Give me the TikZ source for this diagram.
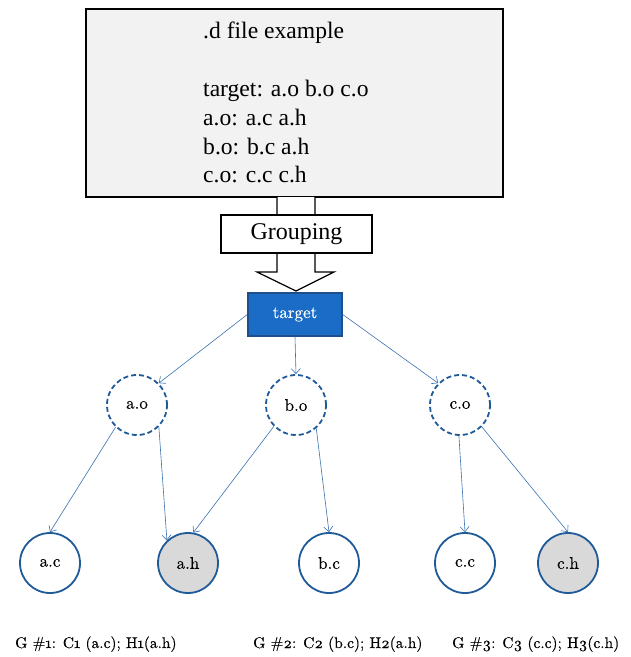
\documentclass[tikz,border=0pt]{standalone}
\usepackage{fontspec}
\usetikzlibrary{arrows.meta}
\newfontfamily\timesfont{Liberation Serif}
\newfontfamily\labfont{lmroman10-regular}[Extension=.otf, Numbers=OldStyle, FakeBold=0.35]

\definecolor{nodeblue}{HTML}{1F5A99}
\definecolor{linkblue}{HTML}{3A72B0}
\definecolor{targetfill}{HTML}{1A6CC6}
\definecolor{targetedge}{HTML}{1F4E8A}
\definecolor{headerfill}{HTML}{D9D9D9}
\definecolor{panelfill}{HTML}{F2F2F2}

\tikzset{
  panel/.style={draw=black, line width=1.6pt, fill=panelfill},
  listline/.style={anchor=base west, inner sep=0pt,
    font=\timesfont\fontsize{23.6}{28}\selectfont},
  grpbox/.style={draw=black, line width=1.2pt, fill=white, minimum width=151pt,
    minimum height=38pt, inner sep=0pt, font=\timesfont\fontsize{24}{28}\selectfont},
  blockarrow/.style={draw=black, line width=1.2pt, fill=white, line join=miter},
  targetbox/.style={draw=targetedge, line width=1.4pt, fill=targetfill,
    minimum width=94pt, minimum height=43pt, inner sep=0pt, text=white,
    font=\labfont\fontsize{17}{20}\selectfont},
  objnode/.style={circle, draw=nodeblue, line width=1.8pt, dash pattern=on 5pt off 3pt,
    minimum size=60pt, inner sep=0pt, font=\labfont\fontsize{17}{20}\selectfont},
  srcnode/.style={circle, draw=nodeblue, line width=1.8pt, fill=white,
    minimum size=60pt, inner sep=0pt, font=\labfont\fontsize{17}{20}\selectfont},
  hdrnode/.style={srcnode, fill=headerfill},
  dep/.style={draw=linkblue, line width=0.6pt,
    -{Straight Barb[length=5pt, width=9pt, line width=0.6pt]}},
  caption/.style={anchor=base west, inner sep=0pt,
    font=\labfont\fontsize{15.5}{18}\selectfont}
}

\begin{document}
\begin{tikzpicture}[x=1pt, y=-1pt]
  \useasboundingbox (0,0) rectangle (631,657);

  % dependency file listing
  \draw[panel] (86,9) rectangle (503,197);
  \node[listline] (l0) at (203,38)  {.d file example};
  \node[listline] (l1) at (203,96)  {target: a.o b.o c.o};
  \node[listline] (l2) at (203,125) {a.o: a.c a.h};
  \node[listline] (l3) at (203,154) {b.o: b.c a.h};
  \node[listline] (l4) at (203,182) {c.o: c.c c.h};

  % block arrow with the grouping step on it
  \draw[blockarrow] (277,197) -- (277,272) -- (257,272) -- (296,291)
    -- (334,272) -- (315,272) -- (315,197);
  \node[grpbox] (grp) at (296.5,234) {Grouping};

  % dependency tree
  \node[targetbox] (tgt) at (295,314.5) {target};

  \node[objnode] (ao) at (137,405) {a.o};
  \node[objnode] (bo) at (296,405) {b.o};
  \node[objnode] (co) at (460,405) {c.o};

  \node[srcnode] (ac) at (50,563)  {a.c};
  \node[hdrnode] (ah) at (188,563) {a.h};
  \node[srcnode] (bc) at (329,563) {b.c};
  \node[srcnode] (cc) at (465,563) {c.c};
  \node[hdrnode] (ch) at (568,563) {c.h};

  \draw[dep] (tgt.west)  -- (ao.45);
  \draw[dep] (tgt.south) -- (bo.north);
  \draw[dep] (tgt.east)  -- (co.135);

  \draw[dep] (ao.-134) -- (ac.north);
  \draw[dep] (ao.-45)  -- (ah.133);
  \draw[dep] (bo.-136) -- (ah.80);
  \draw[dep] (bo.-49)  -- (bc.north);
  \draw[dep] (co.-92)  -- (cc.north);
  \draw[dep] (co.-45)  -- (ch.north);

  % group summaries
  \node[caption] (g1) at (15,648)  {G \#1: C1 (a.c); H1(a.h)};
  \node[caption] (g2) at (253,648) {G \#2: C2 (b.c); H2(a.h)};
  \node[caption] (g3) at (452,648) {G \#3: C3 (c.c); H3(c.h)};
\end{tikzpicture}
\end{document}
